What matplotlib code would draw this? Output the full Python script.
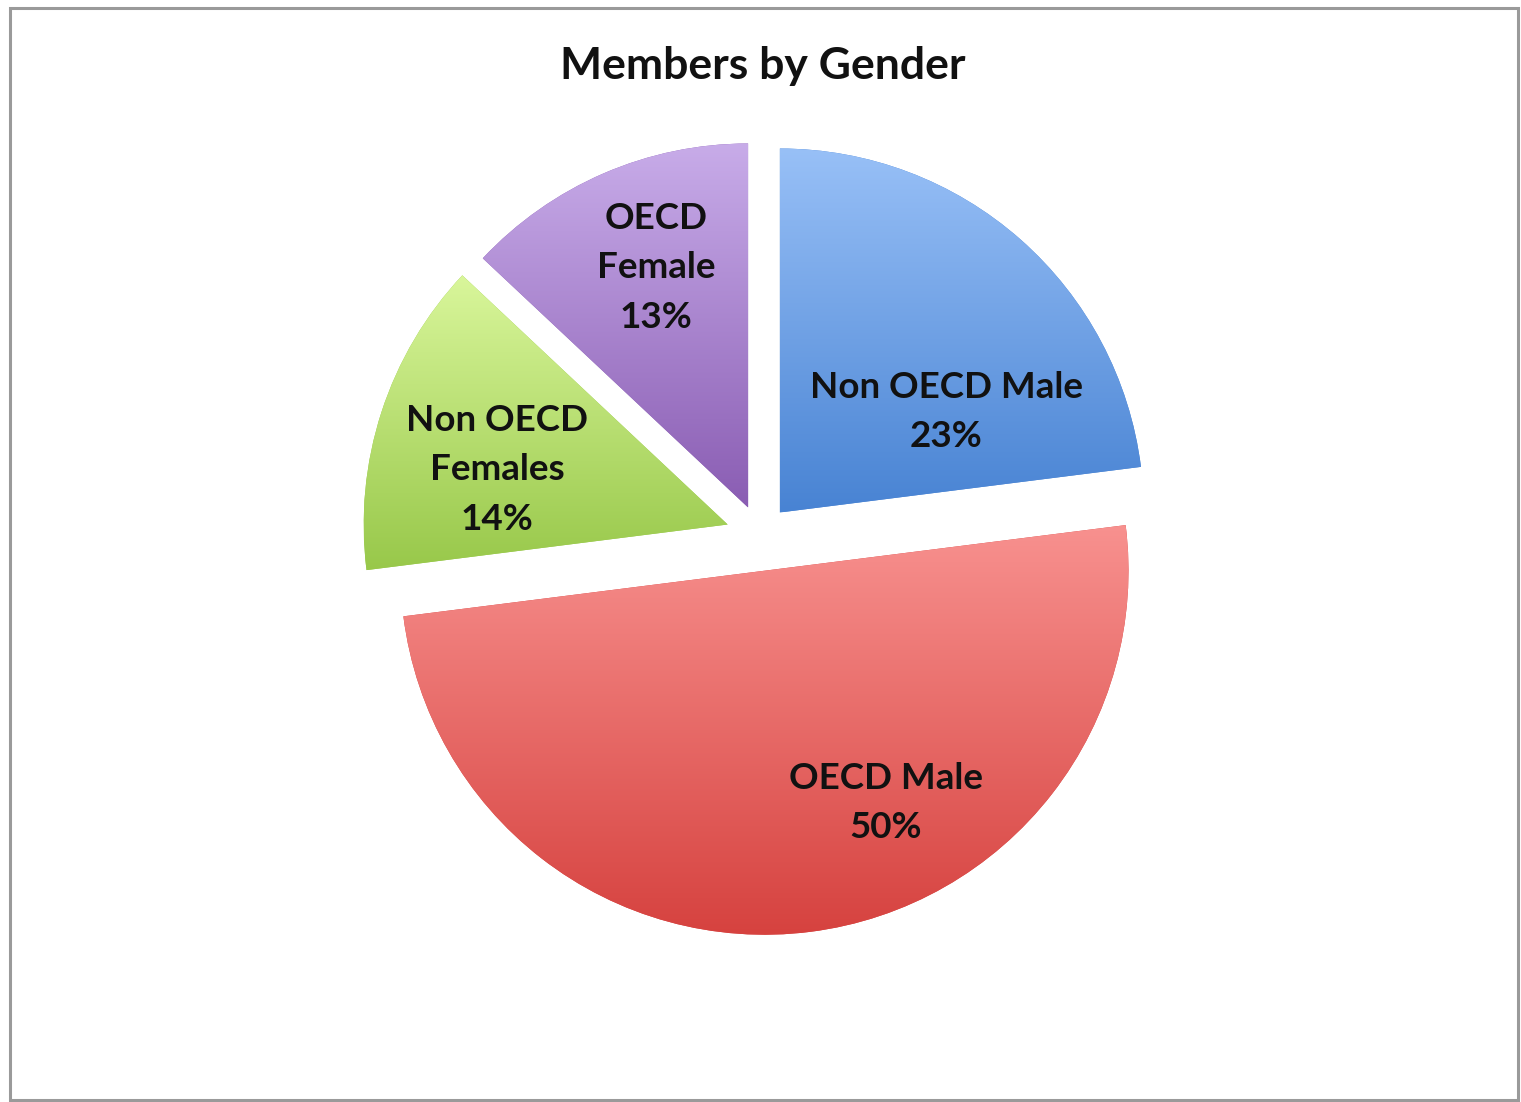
import numpy as np
import matplotlib
matplotlib.use("Agg")
import matplotlib.pyplot as plt
from matplotlib.patches import Rectangle
from matplotlib.colors import to_rgb

# ---- data ----
categories = ["Non OECD Male", "OECD Male", "Non OECD\nFemales", "OECD\nFemale"]
shares = [23, 50, 14, 13]
label_texts = ["Non OECD Male\n23%", "OECD Male\n50%", "Non OECD\nFemales\n14%", "OECD\nFemale\n13%"]
title = "Members by Gender"

# ---- style ----
top_colors = ["#98c0f7", "#f8918f", "#d9f69b", "#c8ace9"]
bottom_colors = ["#4883d3", "#d6423f", "#98c84a", "#8a5db3"]
explode = [30, 36, 34, 30]  # offsets in axes units (pixels)
label_pos = [(946, 690), (886, 299), (497, 632), (656, 834)]  # pixel-like axes coords (y up)

W, H = 1521, 1102
plt.rcParams['font.family'] = ['Lato', 'DejaVu Sans']
fig = plt.figure(figsize=(W / 100, H / 100), dpi=100)
ax = fig.add_axes([0, 0, 1, 1])

wedges, _ = ax.pie(shares, startangle=90, counterclock=False, explode=explode,
                   center=(760, H - 535), radius=364,
                   wedgeprops=dict(linewidth=0, edgecolor='none'))
ax.set_xlim(0, W)
ax.set_ylim(0, H)
ax.set_aspect('equal')
ax.axis('off')

for w, ct, cb in zip(wedges, top_colors, bottom_colors):
    ext = w.get_path().get_extents()
    t = np.linspace(0, 1, 256)[:, None, None]
    grad = (1 - t) * np.array(to_rgb(ct))[None, None, :] + t * np.array(to_rgb(cb))[None, None, :]
    w.set_facecolor(cb)
    im = ax.imshow(grad, extent=(ext.x0, ext.x1, ext.y0, ext.y1), origin='upper',
                   aspect='auto', zorder=2, interpolation='bilinear')
    im.set_clip_path(w)

for txt, (x, y) in zip(label_texts, label_pos):
    ax.text(x, y, txt, ha='center', va='center', fontsize=26.5, fontweight='bold',
            color='#111111', linespacing=1.6, zorder=5)

fig.text(763 / W, 1 - 66 / H, title, ha='center', va='center', fontsize=32,
         fontweight='bold', color='#111111')

fig.patches.append(Rectangle((10 / W, 2 / H), 1508 / W, 1092 / H, transform=fig.transFigure,
                             fill=False, edgecolor='#9a9a9a', linewidth=2.2, zorder=10))

ax.set_xlim(0, W)
ax.set_ylim(0, H)
fig.savefig("out.png", dpi=100)
